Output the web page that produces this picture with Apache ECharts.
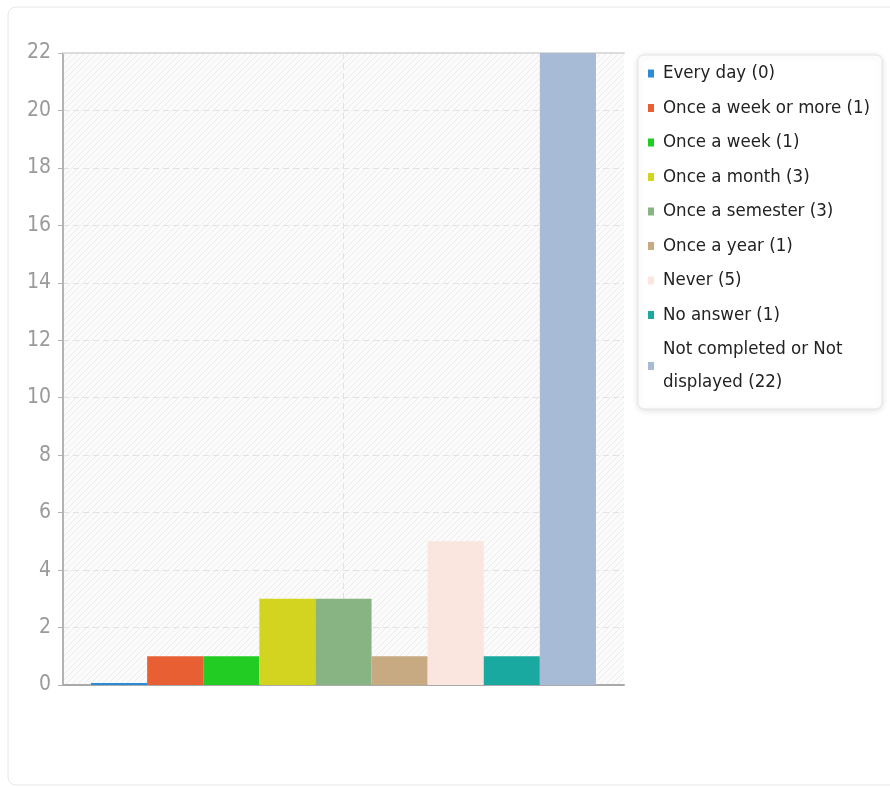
<!DOCTYPE html>
<html>
<head>
<meta charset="utf-8">
<script src="https://cdn.jsdelivr.net/npm/echarts@6/dist/echarts.min.js"></script>
<style>
html, body { margin: 0; padding: 0; background: #fff; }
#chart { width: 890px; height: 787px; }
</style>
</head>
<body>
<div id="chart"></div>
<script>
// answers and counts
var answers = ['Every day', 'Once a week or more', 'Once a week', 'Once a month', 'Once a semester', 'Once a year', 'Never', 'No answer', 'Not completed or Not displayed'];
var counts = [0, 1, 1, 3, 3, 1, 5, 1, 22];
var barColors = ['#2b8bd6', '#e85f33', '#22cc22', '#d2d41f', '#88b383', '#c8aa82', '#fae6de', '#1aa9a1', '#a7bbd6'];
var yTicks = [0, 2, 4, 6, 8, 10, 12, 14, 16, 18, 20, 22];

var font = 'DejaVu Sans Condensed';

// hatched background for the plot area
var hatch = document.createElement('canvas');
hatch.width = 6;
hatch.height = 6;
var hctx = hatch.getContext('2d');
hctx.fillStyle = '#fbfbfb';
hctx.fillRect(0, 0, 6, 6);
hctx.strokeStyle = '#ececec';
hctx.lineWidth = 1;
hctx.beginPath();
hctx.moveTo(0, 6); hctx.lineTo(6, 0);
hctx.moveTo(-1, 1); hctx.lineTo(1, -1);
hctx.moveTo(5, 7); hctx.lineTo(7, 5);
hctx.stroke();

var chartDom = document.getElementById('chart');
var myChart = echarts.init(chartDom);

var seriesList = answers.map(function (a, i) {
    return {
        name: a + ' (' + counts[i] + ')',
        type: 'bar',
        barGap: '0%',
        barCategoryGap: '10%',
        barMinHeight: i === 0 ? 2 : 0,
        itemStyle: { color: barColors[i] },
        data: [counts[i]]
    };
});

var option = {
    animation: false,
    color: barColors,
    graphic: [{
        type: 'rect',
        silent: true,
        z: -10,
        shape: { x: 8, y: 7, width: 900, height: 778, r: 8 },
        style: { fill: '#fff', stroke: '#e6e6e6', lineWidth: 1 }
    }],
    grid: {
        left: 63,
        top: 53,
        right: 266,
        bottom: 102,
        show: true,
        borderWidth: 0,
        backgroundColor: { image: hatch, repeat: 'repeat' }
    },
    legend: {
        orient: 'vertical',
        left: 638,
        top: 55,
        padding: [2, 12, 10, 10],
        itemGap: 1.5,
        icon: 'rect',
        itemWidth: 6,
        itemHeight: 8,
        backgroundColor: '#fff',
        borderColor: '#e4e4e4',
        borderWidth: 1,
        borderRadius: 6,
        shadowColor: 'rgba(0,0,0,0.12)',
        shadowBlur: 6,
        shadowOffsetY: 1,
        formatter: function (name) {
            return name.replace('or Not displayed', 'or Not\ndisplayed');
        },
        textStyle: {
            fontFamily: font,
            fontSize: 18.5,
            color: '#222',
            lineHeight: 33,
            padding: [0, 0, 0, 4]
        }
    },
    xAxis: [{
        type: 'category',
        data: ['answers'],
        axisLine: { show: true, lineStyle: { color: '#aaa', width: 2 } },
        axisTick: { show: false },
        axisLabel: { show: false },
        splitLine: { show: false }
    }, {
        type: 'value',
        position: 'top',
        min: 0,
        max: 2,
        interval: 1,
        axisLine: { show: true, lineStyle: { color: '#dcdcdc', width: 2 } },
        axisTick: { show: false },
        axisLabel: { show: false },
        splitLine: {
            show: true,
            lineStyle: { color: ['transparent', '#e2e2e2', 'transparent'], type: [6, 4] }
        }
    }],
    yAxis: {
        type: 'value',
        min: yTicks[0],
        max: yTicks[yTicks.length - 1],
        interval: 2,
        axisLine: { show: true, lineStyle: { color: '#b3b3b3', width: 2 } },
        axisTick: { show: true, length: 5, lineStyle: { color: '#b3b3b3' } },
        axisLabel: {
            margin: 12,
            fontFamily: font,
            fontSize: 21,
            color: '#9a9a9a'
        },
        splitLine: {
            show: true,
            lineStyle: { color: '#e2e2e2', type: [6, 4] }
        }
    },
    series: seriesList
};

myChart.setOption(option);
</script>
</body>
</html>
